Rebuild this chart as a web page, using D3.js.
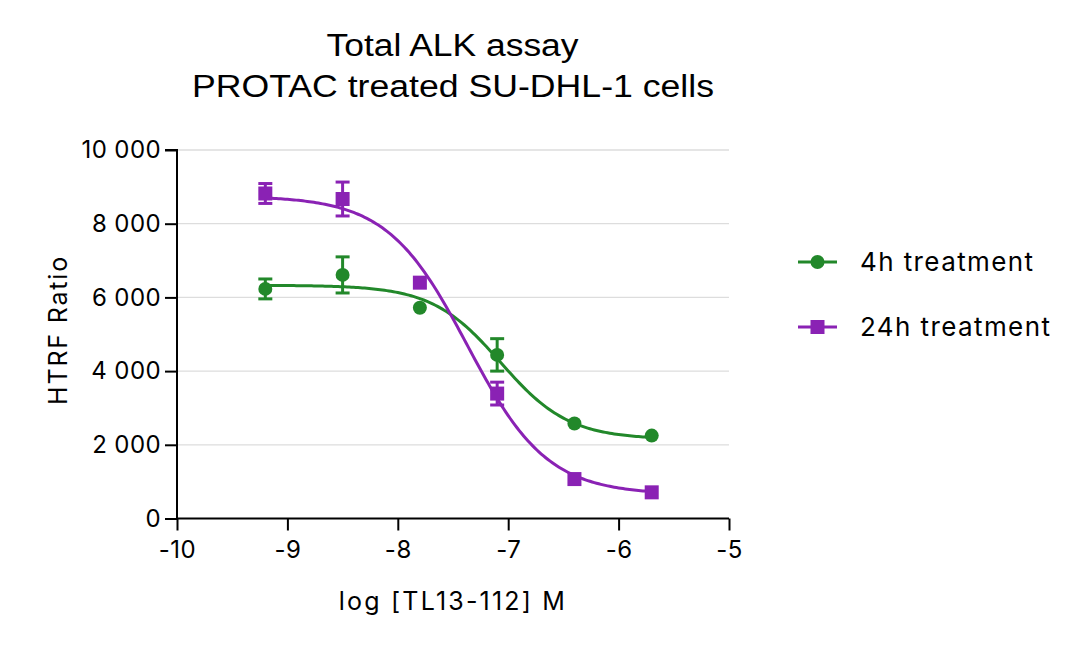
<!DOCTYPE html>
<html><head><meta charset="utf-8">
<script src="https://cdn.jsdelivr.net/npm/d3@7"></script>
<style>html,body{margin:0;padding:0;background:#fff;}svg{display:block;}</style>
</head><body>
<script>
// ---- data ----
const logConc = [-9.2, -8.5, -7.8, -7.1, -6.4, -5.7];
const mean4h = [6230, 6610, 5720, 4440, 2580, 2250];
const sem4h = [270, 490, 0, 440, 0, 0];
const mean24h = [8820, 8670, 6400, 3390, 1070, 710];
const sem24h = [270, 460, 0, 310, 0, 0];
// four-parameter logistic fit parameters: [bottom, top, logIC50, hill]
const fit4h = [2150, 6330, -7.07, 1.4];
const fit24h = [650, 8750, -7.37, 1.2];
const xTicks = [-10, -9, -8, -7, -6, -5];
const yTicks = [0, 2000, 4000, 6000, 8000, 10000];
const seriesNames = ["4h treatment", "24h treatment"];
const colors = ["#22882a", "#8a22b4"];

const W = 1080, H = 646;
const svg = d3.select("body").append("svg").attr("width", W).attr("height", H);
const x = d3.scaleLinear().domain([-10, -5]).range([177, 729]);
const y = d3.scaleLinear().domain([0, 10000]).range([518.5, 150]);
const tickFont = "Inter, 'Noto Sans', sans-serif";

// gridlines
svg.append("g").selectAll("line").data(yTicks.filter(d => d > 0)).join("line")
  .attr("x1", x(-10)).attr("x2", x(-5)).attr("y1", d => y(d)).attr("y2", d => y(d))
  .attr("stroke", "#dddddd").attr("stroke-width", 1.3);

// y axis
const yAxis = svg.append("g").attr("transform", `translate(${x(-10)},0)`)
  .call(d3.axisLeft(y).tickValues(yTicks).tickFormat(v => d3.format(",")(v).replace(/,/g, " ")).tickSize(12).tickPadding(4));
yAxis.select(".domain").attr("stroke", "#000").attr("stroke-width", 2).attr("d", `M-12,${y(10000)}H0V${y(0)}`);
yAxis.selectAll(".tick line").attr("stroke", "#000").attr("stroke-width", 2);
yAxis.selectAll(".tick text").attr("font-family", tickFont).attr("font-size", 24).attr("letter-spacing", 0.4).attr("fill", "#000");

// x axis
const xAxis = svg.append("g").attr("transform", `translate(0,${y(0)})`)
  .call(d3.axisBottom(x).tickValues(xTicks).tickFormat(d3.format("d")).tickSize(12).tickPadding(10));
xAxis.select(".domain").attr("stroke", "#000").attr("stroke-width", 2).attr("d", `M${x(-10)},0H${x(-5)}`);
xAxis.selectAll(".tick line").attr("stroke", "#000").attr("stroke-width", 2);
xAxis.selectAll(".tick text").attr("font-family", tickFont).attr("font-size", 24).attr("letter-spacing", 0.5).attr("fill", "#000")
  .text(d => (d < 0 ? "-" : "") + Math.abs(d));

// titles
const title = svg.append("text").attr("text-anchor", "middle").attr("font-family", "'Liberation Sans', Arial, sans-serif")
  .attr("font-size", 31).attr("fill", "#000");
title.append("tspan").attr("x", 452.5).attr("y", 55.5).attr("textLength", 252).attr("lengthAdjust", "spacingAndGlyphs").text("Total ALK assay");
const title2 = svg.append("text").attr("text-anchor", "middle").attr("font-family", "'Liberation Sans', Arial, sans-serif")
  .attr("font-size", 31).attr("fill", "#000");
title2.append("tspan").attr("x", 453).attr("y", 96.5).attr("textLength", 522).attr("lengthAdjust", "spacingAndGlyphs").text("PROTAC treated SU-DHL-1 cells");

svg.append("text").attr("x", 453).attr("y", 610).attr("text-anchor", "middle")
  .attr("font-family", tickFont).attr("font-size", 25).attr("letter-spacing", 2.2).text("log [TL13-112] M");
svg.append("text").attr("transform", `translate(67,330) rotate(-90)`).attr("text-anchor", "middle")
  .attr("font-family", tickFont).attr("font-size", 25).attr("letter-spacing", 1.8).text("HTRF Ratio");

// curves
const fits = [fit4h, fit24h];
const sample = d3.range(logConc[0], logConc[logConc.length - 1] + 0.001, 0.02);
const fourPL = (p, xv) => p[0] + (p[1] - p[0]) / (1 + Math.pow(10, (xv - p[2]) * p[3]));
const line = d3.line().x(d => x(d[0])).y(d => y(d[1]));
fits.forEach((p, i) => {
  svg.append("path").attr("d", line(sample.map(v => [v, fourPL(p, v)])))
    .attr("fill", "none").attr("stroke", colors[i]).attr("stroke-width", 3);
});

// points & error bars
const series = [
  logConc.map((c, i) => ({ c, m: mean4h[i], e: sem4h[i] })),
  logConc.map((c, i) => ({ c, m: mean24h[i], e: sem24h[i] }))
];
series.forEach((pts, si) => {
  const g = svg.append("g").attr("stroke", colors[si]).attr("fill", colors[si]);
  pts.filter(d => d.e > 0).forEach(d => {
    const cx = x(d.c);
    g.append("line").attr("x1", cx).attr("x2", cx).attr("y1", y(d.m + d.e)).attr("y2", y(d.m - d.e)).attr("stroke-width", 3);
    [d.m + d.e, d.m - d.e].forEach(v => g.append("line").attr("x1", cx - 7).attr("x2", cx + 7)
      .attr("y1", y(v)).attr("y2", y(v)).attr("stroke-width", 3));
  });
  pts.forEach(d => {
    if (si === 0) g.append("circle").attr("cx", x(d.c)).attr("cy", y(d.m)).attr("r", 7).attr("stroke", "none");
    else g.append("rect").attr("x", x(d.c) - 7).attr("y", y(d.m) - 7).attr("width", 14).attr("height", 14).attr("stroke", "none");
  });
});

// legend
const legY = [262, 327];
seriesNames.forEach((n, i) => {
  const g = svg.append("g");
  g.append("line").attr("x1", 798).attr("x2", 837).attr("y1", legY[i]).attr("y2", legY[i])
    .attr("stroke", colors[i]).attr("stroke-width", 3);
  if (i === 0) g.append("circle").attr("cx", 817.5).attr("cy", legY[i]).attr("r", 7).attr("fill", colors[i]);
  else g.append("rect").attr("x", 810.5).attr("y", legY[i] - 7).attr("width", 14).attr("height", 14).attr("fill", colors[i]);
  g.append("text").attr("x", 860).attr("y", legY[i]).attr("dy", "0.36em")
    .attr("font-family", tickFont).attr("font-size", 26).attr("letter-spacing", 1.4).attr("fill", "#000").text(n);
});
</script>
</body></html>
